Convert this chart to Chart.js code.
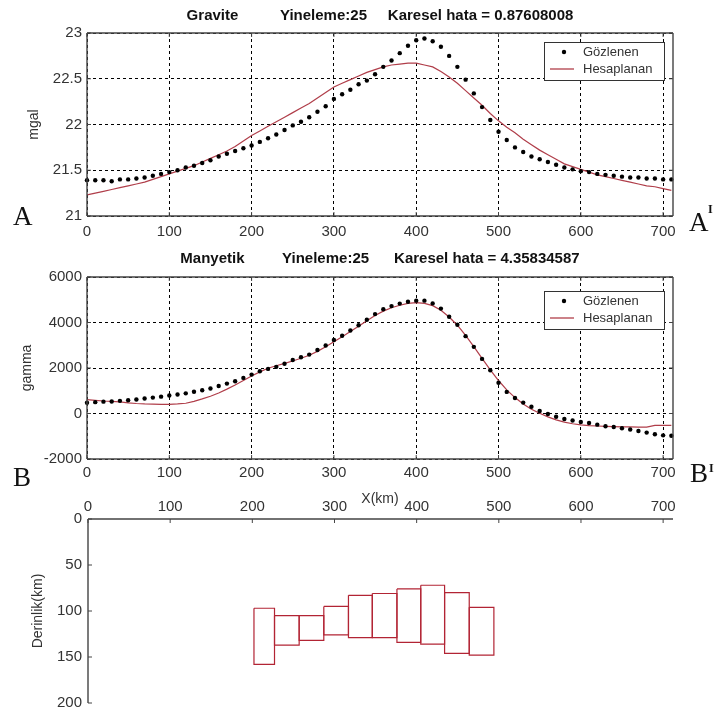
<!DOCTYPE html>
<html>
<head>
<meta charset="utf-8">
<script src="https://cdn.jsdelivr.net/npm/chart.js@4.4.1/dist/chart.umd.min.js"></script>
<style>
  html, body { margin: 0; padding: 0; background: #fff; }
  #page { position: relative; width: 716px; height: 718px; overflow: hidden; }
  canvas { position: absolute; left: 0; }
  .big { position: absolute; font-family: 'Liberation Serif', 'Times New Roman', serif; font-size: 27px; line-height: 27px; color: #111; }
  .sup { position: absolute; font-family: 'Liberation Serif', 'Times New Roman', serif; font-size: 12px; line-height: 12px; font-weight: bold; color: #111; }
</style>
</head>
<body>
<div id="page">
  <canvas id="grav" width="716" height="245" style="top:0px"></canvas>
  <canvas id="mag" width="716" height="265" style="top:245px"></canvas>
  <canvas id="depth" width="716" height="228" style="top:490px"></canvas>
  <div class="big" style="left:13px;top:203px">A</div>
  <div class="big" style="left:689px;top:209px">A</div>
  <div class="sup" style="left:708px;top:203px">I</div>
  <div class="big" style="left:13px;top:464px">B</div>
  <div class="big" style="left:690px;top:460px">B</div>
  <div class="sup" style="left:709px;top:462px">I</div>
</div>
<script>
// profile positions (km)
const xKm = [0,10,20,30,40,50,60,70,80,90,100,110,120,130,140,150,160,170,180,190,
  200,210,220,230,240,250,260,270,280,290,300,310,320,330,340,350,360,370,380,390,
  400,410,420,430,440,450,460,470,480,490,500,510,520,530,540,550,560,570,580,590,
  600,610,620,630,640,650,660,670,680,690,700,710];

// gravity (mgal)
const gravObs = [21.39,21.39,21.39,21.38,21.40,21.40,21.41,21.42,21.44,21.46,
  21.48,21.50,21.53,21.55,21.58,21.61,21.65,21.68,21.71,21.74,
  21.77,21.81,21.85,21.89,21.94,21.99,22.03,22.08,22.14,22.20,
  22.28,22.33,22.38,22.44,22.48,22.55,22.63,22.70,22.78,22.86,
  22.92,22.94,22.91,22.85,22.75,22.63,22.49,22.34,22.19,22.05,
  21.92,21.83,21.75,21.70,21.65,21.62,21.59,21.56,21.53,21.51,
  21.49,21.48,21.46,21.45,21.44,21.43,21.42,21.42,21.41,21.41,21.40,21.40];
const gravCalc = [21.23,21.25,21.27,21.29,21.31,21.33,21.35,21.37,21.40,21.43,
  21.46,21.49,21.52,21.55,21.59,21.63,21.67,21.71,21.76,21.82,
  21.88,21.93,21.98,22.03,22.08,22.13,22.18,22.23,22.29,22.35,
  22.41,22.45,22.49,22.53,22.57,22.60,22.63,22.65,22.66,22.67,
  22.67,22.65,22.63,22.58,22.52,22.45,22.37,22.29,22.21,22.12,
  22.04,21.97,21.91,21.84,21.78,21.72,21.67,21.62,21.57,21.54,
  21.51,21.48,21.45,21.43,21.41,21.39,21.37,21.35,21.33,21.32,21.30,21.28];

// magnetic (gamma)
const magObs = [470,500,520,530,555,585,615,660,700,740,
  790,835,885,955,1025,1100,1210,1315,1420,1565,
  1710,1860,1960,2050,2190,2350,2470,2590,2790,2990,
  3230,3420,3650,3880,4120,4370,4580,4720,4830,4910,
  4960,4960,4840,4610,4250,3900,3400,2930,2400,1900,
  1350,950,680,480,300,110,-20,-140,-245,-305,
  -375,-420,-490,-560,-595,-650,-700,-770,-840,-910,-960,-980];
const magCalc = [610,580,550,530,510,470,440,420,410,400,
  400,420,450,530,640,760,900,1070,1250,1450,
  1650,1830,1990,2100,2200,2310,2430,2560,2730,2930,
  3150,3370,3600,3840,4080,4310,4500,4650,4760,4840,
  4870,4840,4740,4540,4240,3880,3430,2940,2420,1920,
  1450,1040,700,420,190,10,-150,-280,-380,-450,
  -500,-530,-550,-565,-575,-585,-590,-595,-600,-520,-520,-520];

// tick labels
const xTicks = [0,100,200,300,400,500,600,700];
const gravTicks = [21,21.5,22,22.5,23];
const magTicks = [-2000,0,2000,4000,6000];
const depthTicks = [0,50,100,150,200];

// model blocks (km): edges along profile, top and bottom depth
const blockEdges = [202,227,257,287,317,346,376,405,434,464,494];
const blockTop = [97,105,105,95,83,81,76,72,80,96];
const blockBottom = [158,137,132,126,129,129,134,136,146,148];

const FONT = "'Liberation Sans', Arial, sans-serif";
const TXT = '#333';
const CALC_COLOR = 'rgb(176,62,74)';
const BLOCK_COLOR = 'rgb(178,36,52)';

// MATLAB-like axes frame with inward tick marks
const frame = {
  id: 'frame',
  afterDatasetsDraw(chart, args, o) {
    const {ctx, chartArea: a, scales} = chart;
    const s = o.sides || [];
    ctx.save();
    ctx.strokeStyle = '#444';
    ctx.lineWidth = 1.4;
    ctx.beginPath();
    if (s.includes('left')) { ctx.moveTo(a.left, a.top); ctx.lineTo(a.left, a.bottom); }
    if (s.includes('right')) { ctx.moveTo(a.right, a.top); ctx.lineTo(a.right, a.bottom); }
    if (s.includes('top')) { ctx.moveTo(a.left, a.top); ctx.lineTo(a.right, a.top); }
    if (s.includes('bottom')) { ctx.moveTo(a.left, a.bottom); ctx.lineTo(a.right, a.bottom); }
    ctx.stroke();
    ctx.lineWidth = 1;
    ctx.beginPath();
    const L = 4;
    scales.x.ticks.forEach(t => {
      const px = scales.x.getPixelForValue(t.value);
      if (s.includes('top')) { ctx.moveTo(px, a.top); ctx.lineTo(px, a.top + L); }
      if (s.includes('bottom')) { ctx.moveTo(px, a.bottom); ctx.lineTo(px, a.bottom - L); }
    });
    scales.y.ticks.forEach(t => {
      const py = scales.y.getPixelForValue(t.value);
      if (s.includes('left')) { ctx.moveTo(a.left, py); ctx.lineTo(a.left + L, py); }
      if (s.includes('right')) { ctx.moveTo(a.right, py); ctx.lineTo(a.right - L, py); }
    });
    ctx.stroke();
    ctx.restore();
  }
};

// boxed legend in the upper right corner of the plot
const boxLegend = {
  id: 'boxLegend',
  afterDraw(chart, args, o) {
    if (!o.show) return;
    const {ctx, chartArea: a} = chart;
    const w = 120, h = 38;
    const left = a.right - 9 - w, top = a.top + o.top;
    ctx.save();
    ctx.fillStyle = '#fff';
    ctx.fillRect(left, top, w, h);
    ctx.strokeStyle = '#333';
    ctx.lineWidth = 1;
    ctx.strokeRect(left + 0.5, top + 0.5, w, h);
    ctx.font = '13px ' + FONT;
    ctx.textBaseline = 'middle';
    chart.data.datasets.forEach((ds, i) => {
      const yy = top + 10 + i * 17;
      if (ds.showLine) {
        ctx.strokeStyle = ds.borderColor;
        ctx.lineWidth = 1.3;
        ctx.beginPath();
        ctx.moveTo(left + 6, yy);
        ctx.lineTo(left + 30, yy);
        ctx.stroke();
      } else {
        ctx.fillStyle = ds.pointBackgroundColor;
        ctx.beginPath();
        ctx.arc(left + 20, yy, 2.2, 0, Math.PI * 2);
        ctx.fill();
      }
      ctx.fillStyle = TXT;
      ctx.fillText(ds.label, left + 39, yy);
    });
    ctx.restore();
  }
};

Chart.register(frame, boxLegend);

const tickFont = {family: FONT, size: 15};
const useTicks = arr => scale => { scale.ticks = arr.map(v => ({value: v})); };

function profileChart(id, obs, calc, yTicks, titleText, titlePad, legendTop, xPad, yTitle, yTitlePad, xAxisH, xTitle) {
  return new Chart(document.getElementById(id), {
    type: 'scatter',
    data: {
      datasets: [{
        label: 'Gözlenen',
        data: xKm.map((x, i) => ({x: x, y: obs[i]})),
        showLine: false,
        pointRadius: 2.2,
        pointBackgroundColor: '#000',
        pointBorderWidth: 0,
        clip: false
      }, {
        label: 'Hesaplanan',
        data: xKm.map((x, i) => ({x: x, y: calc[i]})),
        showLine: true,
        borderColor: CALC_COLOR,
        borderWidth: 1.2,
        pointRadius: 0,
        tension: 0
      }]
    },
    options: {
      responsive: false,
      animation: false,
      layout: {padding: {right: 43}},
      plugins: {
        legend: {display: false},
        tooltip: {enabled: false},
        title: {
          display: true, fullSize: false, text: titleText, color: '#111',
          font: {family: FONT, size: 15, weight: 'bold'}, padding: titlePad
        },
        frame: {sides: ['left', 'right', 'top', 'bottom']},
        boxLegend: {show: true, top: legendTop}
      },
      scales: {
        x: {
          type: 'linear', min: 0, max: 712,
          afterBuildTicks: useTicks(xTicks),
          afterFit: s => { s.height = xAxisH; },
          grid: {color: '#000', lineWidth: 1, drawTicks: false},
          border: {display: false, dash: [3, 3]},
          ticks: {padding: xPad, color: TXT, font: tickFont, callback: v => String(v)},
          title: xTitle ? {display: true, text: xTitle, color: TXT, font: {family: FONT, size: 14}, padding: {top: 0, bottom: 2}} : {display: false}
        },
        y: {
          min: yTicks[0], max: yTicks[yTicks.length - 1],
          afterBuildTicks: useTicks(yTicks),
          afterFit: s => { s.width = 87; },
          grid: {color: '#000', lineWidth: 1, drawTicks: false},
          border: {display: false, dash: [3, 3]},
          ticks: {padding: 5, color: TXT, font: tickFont, callback: v => String(v)},
          title: {display: true, text: yTitle, color: TXT, font: {family: FONT, size: 14}, padding: {top: yTitlePad, bottom: 0}}
        }
      }
    }
  });
}

profileChart('grav', gravObs, gravCalc, gravTicks,
  'Gravite          Yineleme:25     Karesel hata = 0.87608008',
  {top: 7, bottom: 8}, 9, 7, 'mgal', 26, 29, null);

profileChart('mag', magObs, magCalc, magTicks,
  'Manyetik         Yineleme:25      Karesel hata = 4.35834587',
  {top: 5, bottom: 9}, 14, 5, 'gamma', 19, 51, 'X(km)');

// depth model: one closed outline per block
const blockSets = blockTop.map((top, i) => {
  const x0 = blockEdges[i], x1 = blockEdges[i + 1], bot = blockBottom[i];
  return {
    data: [{x: x0, y: top}, {x: x1, y: top}, {x: x1, y: bot}, {x: x0, y: bot}, {x: x0, y: top}],
    showLine: true,
    borderColor: BLOCK_COLOR,
    borderWidth: 1.2,
    pointRadius: 0,
    tension: 0
  };
});

new Chart(document.getElementById('depth'), {
  type: 'scatter',
  data: {datasets: blockSets},
  options: {
    responsive: false,
    animation: false,
    layout: {padding: {right: 43, bottom: 15}},
    plugins: {
      legend: {display: false},
      tooltip: {enabled: false},
      frame: {sides: ['left', 'top']},
      boxLegend: {show: false}
    },
    scales: {
      x: {
        type: 'linear', position: 'top', min: 0, max: 712,
        afterBuildTicks: useTicks(xTicks),
        afterFit: s => { s.height = 29; },
        grid: {display: false, drawTicks: false},
        border: {display: false},
        ticks: {padding: 3, color: TXT, font: tickFont, callback: v => String(v)}
      },
      y: {
        reverse: true, min: 0, max: 200,
        afterBuildTicks: useTicks(depthTicks),
        afterFit: s => { s.width = 88; },
        grid: {display: false, drawTicks: false},
        border: {display: false},
        ticks: {padding: 6, color: TXT, font: tickFont, callback: v => String(v)},
        title: {display: true, text: 'Derinlik(km)', color: TXT, font: {family: FONT, size: 14}, padding: {top: 30, bottom: 0}}
      }
    }
  }
});
</script>
</body>
</html>
